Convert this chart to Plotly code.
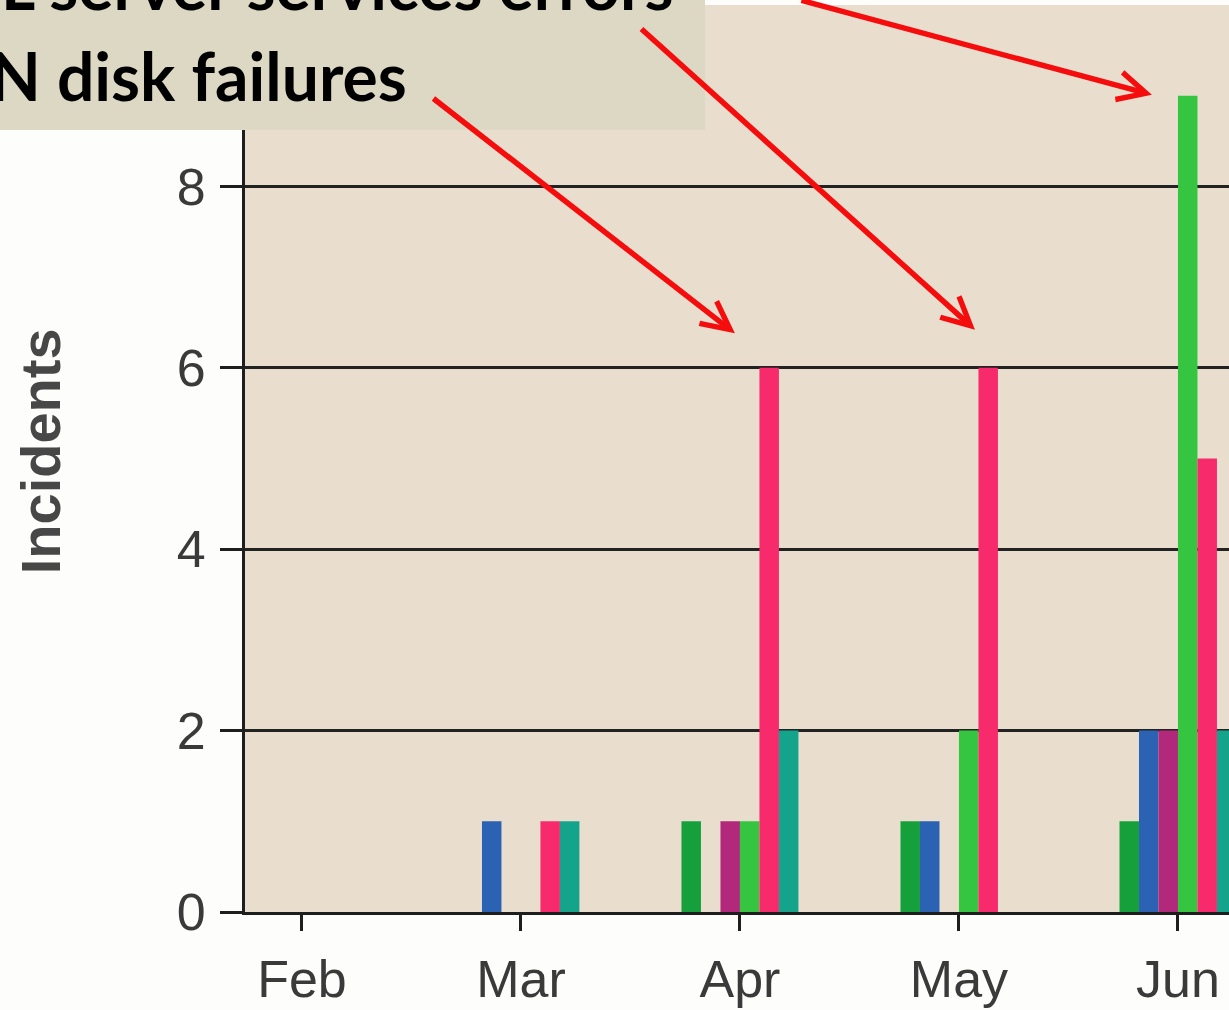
import plotly.graph_objects as go

MONTHS = ["Feb", "Mar", "Apr", "May", "Jun"]

# incidents per month, one list per series (colour order as in the scan)
DARK_GREEN = [0, 0, 1, 1, 1]
BLUE = [0, 1, 0, 1, 2]
PURPLE = [0, 0, 1, 0, 2]
LIGHT_GREEN = [0, 0, 1, 2, 9]
PINK = [0, 1, 6, 6, 5]
TEAL = [0, 1, 2, 0, 2]

Y_TICKS = [0, 2, 4, 6, 8, 10]
Y_TICK_TEXT = ["0", "2", "4", "6", "8", ""]

NOTE_LINES = ["L server services errors", "N disk failures"]

SERIES = [
    ("dark green", DARK_GREEN, "#16a03c"),
    ("blue", BLUE, "#2b62b3"),
    ("purple", PURPLE, "#b2297c"),
    ("light green", LIGHT_GREEN, "#35c541"),
    ("pink", PINK, "#f72a6b"),
    ("teal", TEAL, "#13a48b"),
]

fig = go.Figure()
for name, vals, col in SERIES:
    fig.add_trace(
        go.Bar(x=MONTHS, y=vals, name=name, marker_color=col, marker_line_width=0)
    )

fig.update_layout(
    width=1229,
    height=1010,
    margin=dict(l=245, r=0, t=5, b=98),
    barmode="group",
    bargap=0.466,
    bargroupgap=0,
    showlegend=False,
    plot_bgcolor="#e9decd",
    paper_bgcolor="#fdfdfc",
    font=dict(family="Liberation Sans, Arial, sans-serif", color="#3c3c3c"),
)

fig.update_xaxes(
    range=[-0.26, 4.233],
    showgrid=False,
    showline=True,
    linecolor="#1e1e1e",
    linewidth=3,
    ticks="outside",
    ticklen=16,
    tickwidth=3,
    tickcolor="#1e1e1e",
    tickfont=dict(size=52, color="#3a3a3a"),
    ticklabelstandoff=4,
)
fig.update_yaxes(
    range=[0, 10],
    tickvals=Y_TICKS,
    ticktext=Y_TICK_TEXT,
    showgrid=True,
    gridcolor="#222222",
    gridwidth=2.5,
    zeroline=False,
    showline=True,
    linecolor="#1e1e1e",
    linewidth=3,
    ticks="outside",
    ticklen=22,
    tickwidth=2.5,
    tickcolor="#1e1e1e",
    tickfont=dict(size=52, color="#3a3a3a"),
    ticklabelstandoff=4,
)

# beige callout box in the upper left
fig.add_shape(
    type="rect",
    xref="paper",
    yref="paper",
    x0=-0.3,
    x1=0.4675,
    y0=0.8622,
    y1=1.1,
    fillcolor="#dcd8c4",
    line_width=0,
    layer="above",
)

fig.add_annotation(
    text="<b>%s</b>" % NOTE_LINES[0],
    xref="paper",
    yref="paper",
    x=0.437,
    y=1.0225,
    xanchor="right",
    yanchor="middle",
    showarrow=False,
    font=dict(family="Lato, sans-serif", size=66, color="#000000"),
)
fig.add_annotation(
    text="<b>%s</b>" % NOTE_LINES[1],
    xref="paper",
    yref="paper",
    x=-0.2612,
    y=0.9228,
    xanchor="left",
    yanchor="middle",
    showarrow=False,
    font=dict(family="Lato, sans-serif", size=66, color="#000000"),
)

# y axis title
fig.add_annotation(
    text="<b>Incidents</b>",
    xref="paper",
    yref="paper",
    x=-0.2083,
    y=0.508,
    xanchor="center",
    yanchor="middle",
    textangle=-90,
    showarrow=False,
    font=dict(family="Liberation Sans, Arial, sans-serif", size=56, color="#474747"),
)

# red arrows from the callout to the peaks
for hx, hy, ax, ay in [
    (1.977, 6.38, -303, -236),
    (3.073, 6.42, -335, -302),
    (3.881, 9.01, -352, -103),
]:
    fig.add_annotation(
        x=hx,
        y=hy,
        xref="x",
        yref="y",
        ax=ax,
        ay=ay,
        text="",
        showarrow=True,
        arrowhead=5,
        arrowsize=1.0,
        arrowwidth=5.5,
        arrowcolor="#f50d0d",
        standoff=0,
    )

fig.write_html(
    "out.html",
    config={"displayModeBar": False},
    post_script="document.body.style.margin='0';",
)
